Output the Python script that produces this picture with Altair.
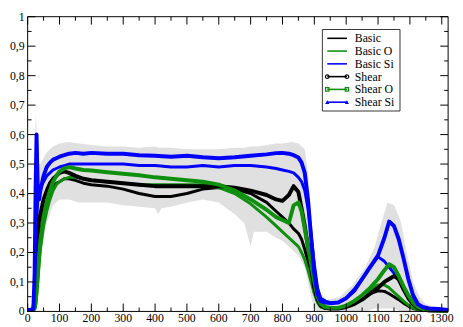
import altair as alt
import pandas as pd

# ---------------- data ----------------
x_grid = [0, 10, 18, 22, 25, 28, 32, 36, 40, 50, 60, 70, 80, 90, 100, 115, 130, 150, 175, 200,
          250, 300, 350, 400, 450, 500, 550, 600, 650, 700, 750, 780, 800, 820, 835, 850, 860,
          870, 880, 890, 900, 910, 920, 935, 950, 975, 1000, 1025, 1050, 1075, 1100, 1120,
          1135, 1150, 1165, 1180, 1195, 1210, 1225, 1240, 1260, 1290, 1320]

basic = [0.005, 0.005, 0.005, 0.02, 0.05, 0.10, 0.17, 0.23, 0.27, 0.33, 0.37, 0.40, 0.42, 0.435,
         0.44, 0.45, 0.45, 0.445, 0.435, 0.43, 0.425, 0.415, 0.40, 0.39, 0.39, 0.40, 0.415, 0.42,
         0.415, 0.40, 0.37, 0.34, 0.32, 0.30, 0.28, 0.265, 0.245, 0.21, 0.17, 0.12, 0.07, 0.035,
         0.018, 0.01, 0.01, 0.01, 0.015, 0.028, 0.045, 0.06, 0.07, 0.068, 0.06, 0.05, 0.04,
         0.028, 0.018, 0.01, 0.006, 0.004, 0.002, 0.002, 0.001]

basic_o = [0.005, 0.005, 0.005, 0.01, 0.02, 0.05, 0.10, 0.16, 0.21, 0.29, 0.34, 0.38, 0.41, 0.43,
           0.44, 0.45, 0.455, 0.455, 0.45, 0.445, 0.44, 0.435, 0.43, 0.43, 0.43, 0.43, 0.43,
           0.42, 0.40, 0.365, 0.32, 0.29, 0.27, 0.25, 0.235, 0.22, 0.20, 0.175, 0.14, 0.10, 0.06,
           0.03, 0.015, 0.01, 0.01, 0.01, 0.018, 0.03, 0.05, 0.07, 0.09, 0.09, 0.08, 0.065, 0.05,
           0.035, 0.022, 0.012, 0.007, 0.004, 0.003, 0.002, 0.002]

basic_si = [0.005, 0.005, 0.01, 0.05, 0.15, 0.30, 0.38, 0.40, 0.42, 0.44, 0.46, 0.47, 0.48, 0.485,
            0.49, 0.495, 0.50, 0.50, 0.50, 0.50, 0.50, 0.50, 0.495, 0.495, 0.49, 0.49, 0.495,
            0.49, 0.495, 0.495, 0.49, 0.485, 0.48, 0.475, 0.47, 0.455, 0.44, 0.41, 0.35, 0.26,
            0.16, 0.08, 0.045, 0.035, 0.03, 0.03, 0.045, 0.075, 0.11, 0.15, 0.185, 0.17, 0.15,
            0.13, 0.105, 0.075, 0.05, 0.028, 0.015, 0.01, 0.008, 0.006, 0.005]

shear = [0.005, 0.005, 0.01, 0.05, 0.12, 0.22, 0.28, 0.31, 0.33, 0.38, 0.41, 0.435, 0.45, 0.46,
         0.47, 0.475, 0.47, 0.46, 0.45, 0.445, 0.44, 0.435, 0.43, 0.425, 0.425, 0.425, 0.425,
         0.425, 0.42, 0.41, 0.395, 0.38, 0.375, 0.395, 0.425, 0.405, 0.35, 0.29, 0.22, 0.15,
         0.08, 0.04, 0.02, 0.012, 0.01, 0.01, 0.015, 0.025, 0.04, 0.06, 0.08, 0.10, 0.11, 0.12,
         0.11, 0.075, 0.045, 0.025, 0.012, 0.006, 0.004, 0.003, 0.002]

shear_o = [0.005, 0.005, 0.005, 0.01, 0.03, 0.07, 0.13, 0.19, 0.24, 0.32, 0.37, 0.41, 0.44, 0.46,
           0.475, 0.485, 0.49, 0.485, 0.48, 0.478, 0.472, 0.467, 0.462, 0.455, 0.45, 0.445, 0.44,
           0.43, 0.41, 0.38, 0.345, 0.32, 0.31, 0.30, 0.36, 0.37, 0.34, 0.28, 0.22, 0.16, 0.10,
           0.05, 0.025, 0.015, 0.012, 0.012, 0.02, 0.035, 0.055, 0.08, 0.11, 0.14, 0.16, 0.15,
           0.12, 0.085, 0.055, 0.03, 0.015, 0.008, 0.005, 0.004, 0.003]

shear_si = [0.005, 0.005, 0.01, 0.13, 0.42, 0.60, 0.40, 0.38, 0.41, 0.46, 0.49, 0.505, 0.515,
            0.52, 0.525, 0.53, 0.535, 0.538, 0.535, 0.538, 0.535, 0.535, 0.53, 0.528, 0.525,
            0.528, 0.523, 0.52, 0.523, 0.528, 0.533, 0.537, 0.538, 0.535, 0.53, 0.522, 0.505,
            0.47, 0.38, 0.25, 0.13, 0.06, 0.035, 0.03, 0.028, 0.03, 0.045, 0.07, 0.11, 0.15,
            0.19, 0.25, 0.305, 0.29, 0.245, 0.18, 0.11, 0.055, 0.025, 0.015, 0.01, 0.008, 0.005]

raw_x = [0, 15, 20, 25, 28, 32, 40, 60, 80, 100, 130, 160, 200, 250, 300, 350, 400, 410, 420,
         450, 500, 550, 600, 650, 680, 700, 710, 720, 750, 780, 800, 830, 850, 870, 880, 890,
         900, 910, 920, 940, 980, 1020, 1060, 1090, 1110, 1130, 1150, 1170, 1190, 1210, 1230,
         1250, 1280, 1320]
raw_hi = [0.01, 0.01, 0.15, 0.67, 0.62, 0.50, 0.50, 0.54, 0.56, 0.57, 0.575, 0.57, 0.565, 0.56,
          0.56, 0.555, 0.56, 0.555, 0.555, 0.555, 0.55, 0.55, 0.55, 0.555, 0.555, 0.56, 0.56,
          0.56, 0.565, 0.57, 0.57, 0.575, 0.57, 0.55, 0.47, 0.33, 0.19, 0.10, 0.06, 0.04, 0.05,
          0.09, 0.15, 0.22, 0.30, 0.37, 0.36, 0.31, 0.20, 0.10, 0.05, 0.025, 0.012, 0.008]
raw_lo = [0, 0, 0, 0, 0.05, 0.10, 0.20, 0.30, 0.36, 0.38, 0.38, 0.37, 0.37, 0.37, 0.36, 0.355,
          0.35, 0.33, 0.35, 0.355, 0.37, 0.38, 0.37, 0.33, 0.30, 0.22, 0.27, 0.27, 0.27, 0.25,
          0.24, 0.21, 0.19, 0.15, 0.10, 0.05, 0.01, 0, 0, 0, 0, 0, 0, 0.01, 0.01, 0.01, 0.01, 0,
          0, 0, 0, 0, 0, 0]

series_names = ["Basic", "Basic O", "Basic Si", "Shear", "Shear O", "Shear Si"]
series_values = [basic, basic_o, basic_si, shear, shear_o, shear_si]

x_major = [0, 100, 200, 300, 400, 500, 600, 700, 800, 900, 1000, 1100, 1200, 1300]
x_labels = ["0", "100", "200", "300", "400", "500", "600", "700", "800", "900", "1000",
            "1100", "1200", "1300"]
x_minor = [50, 150, 250, 350, 450, 550, 650, 750, 850, 950, 1050, 1150, 1250]
y_major = [0, 0.1, 0.2, 0.3, 0.4, 0.5, 0.6, 0.7, 0.8, 0.9, 1.0]
y_labels = ["0", "0,1", "0,2", "0,3", "0,4", "0,5", "0,6", "0,7", "0,8", "0,9", "1"]
y_minor = [0.05, 0.15, 0.25, 0.35, 0.45, 0.55, 0.65, 0.75, 0.85, 0.95]

# ---------------- styling ----------------
W, H = 428, 300
FONT = "Liberation Serif"
GREEN = "#0e8f0e"
colors = {"Basic": "black", "Basic O": GREEN, "Basic Si": "#0000ff",
          "Shear": "black", "Shear O": GREEN, "Shear Si": "#0000ff"}
widths = {"Basic": 3, "Basic O": 3, "Basic Si": 3,
          "Shear": 4, "Shear O": 4, "Shear Si": 4}

xs = alt.Scale(domain=[0, 1320], nice=False, zero=False)
ys = alt.Scale(domain=[0, 1], nice=False, zero=False)


def X(f):
    return alt.X(f, scale=xs, axis=None)


def Y(f):
    return alt.Y(f, scale=ys, axis=None)


layers = []

# raw (gray) data envelope
raw_df = pd.DataFrame({"x": raw_x, "hi": raw_hi, "lo": raw_lo})
layers.append(alt.Chart(raw_df).mark_area(color="#e0e0e0", opacity=1).encode(
    x=X("x:Q"), y=Y("hi:Q"), y2="lo:Q"))

# series
for name, vals in zip(series_names, series_values):
    d = pd.DataFrame({"x": x_grid, "y": vals})
    layers.append(alt.Chart(d).mark_line(color=colors[name], strokeWidth=widths[name],
                                         strokeJoin="round").encode(x=X("x:Q"), y=Y("y:Q")))

# inward ticks on all four sides
ymaj = pd.DataFrame({"v": y_major, "t": y_labels})
ymin = pd.DataFrame({"v": y_minor})
xmaj = pd.DataFrame({"v": x_major, "t": x_labels})
xmin = pd.DataFrame({"v": x_minor})
for d, L in ((ymaj, 8), (ymin, 4)):
    layers.append(alt.Chart(d).mark_rule(color="black").encode(
        y=Y("v:Q"), x=alt.value(0), x2=alt.value(L)))
    layers.append(alt.Chart(d).mark_rule(color="black").encode(
        y=Y("v:Q"), x=alt.value(W - L), x2=alt.value(W)))
for d, L in ((xmaj, 8), (xmin, 4)):
    layers.append(alt.Chart(d).mark_rule(color="black").encode(
        x=X("v:Q"), y=alt.value(0), y2=alt.value(L)))
    layers.append(alt.Chart(d).mark_rule(color="black").encode(
        x=X("v:Q"), y=alt.value(H - L), y2=alt.value(H)))

# tick labels
layers.append(alt.Chart(ymaj).mark_text(align="right", baseline="middle", font=FONT,
                                        fontSize=12, color="black").encode(
    y=Y("v:Q"), x=alt.value(-3), text="t:N"))
layers.append(alt.Chart(xmaj).mark_text(align="center", baseline="top", font=FONT,
                                        fontSize=12, color="black").encode(
    x=X("v:Q"), y=alt.value(H + 2), text="t:N"))

# frame
one = pd.DataFrame({"a": [0]})
layers.append(alt.Chart(one).mark_rect(fill=None, stroke="black", strokeWidth=1).encode(
    x=alt.value(0), x2=alt.value(W), y=alt.value(0), y2=alt.value(H)))

# legend box
LX, LY, LW, LH = 300, 13, 79, 83
layers.append(alt.Chart(one).mark_rect(fill="white", stroke="#333333", strokeWidth=1).encode(
    x=alt.value(LX), x2=alt.value(LX + LW), y=alt.value(LY), y2=alt.value(LY + LH)))
markers = {"Shear": ("circle", False, 14), "Shear O": ("square", False, 12),
           "Shear Si": ("triangle-up", True, 18)}
for i, name in enumerate(series_names):
    yy = LY + 9 + 13 * i
    layers.append(alt.Chart(one).mark_rule(color=colors[name], strokeWidth=1.6).encode(
        x=alt.value(LX + 5), x2=alt.value(LX + 25), y=alt.value(yy)))
    if name in markers:
        shp, filled, sz = markers[name]
        for px in (LX + 5, LX + 25):
            layers.append(alt.Chart(one).mark_point(
                shape=shp, filled=filled, color=colors[name], size=sz,
                strokeWidth=1.2, opacity=1).encode(x=alt.value(px), y=alt.value(yy)))
    layers.append(alt.Chart(one).mark_text(
        text=name, align="left", baseline="middle", font=FONT, fontSize=12,
        color="black").encode(x=alt.value(LX + 33), y=alt.value(yy)))

chart = alt.layer(*layers).properties(
    width=W, height=H,
    autosize=alt.AutoSizeParams(type="none"),
    padding={"left": 20, "top": 6, "right": 7, "bottom": 13},
).configure_view(stroke=None)

chart.save("out.html", embed_options={"renderer": "svg", "actions": False})
